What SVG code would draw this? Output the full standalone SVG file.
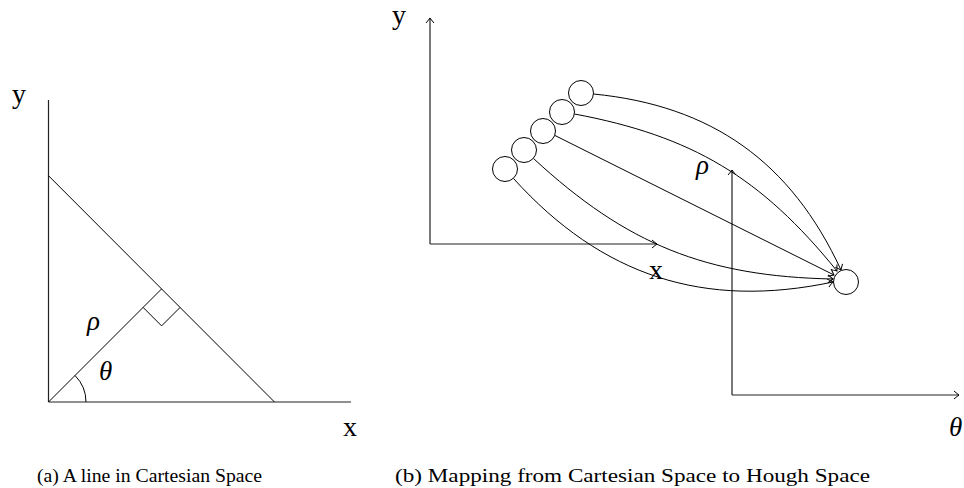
<svg xmlns="http://www.w3.org/2000/svg" width="964" height="488" viewBox="0 0 964 488">
<style>
.ln{fill:none;stroke:#000;stroke-width:1}
.ax{fill:none;stroke:#222;stroke-width:1.2}
.lbl{font-family:"Liberation Serif","DejaVu Serif",serif;font-size:28px;fill:#000}
.gr{font-family:"Liberation Serif","DejaVu Serif",serif;font-size:27px;font-style:italic;fill:#000}
.cap{font-family:"Liberation Serif","DejaVu Serif",serif;font-size:18px;fill:#000}
.nd{fill:#fff;stroke:#000;stroke-width:1}
</style>
<defs>
<marker id="to" markerUnits="userSpaceOnUse" markerWidth="12" markerHeight="12" viewBox="-7 -6 9 12" refX="0" refY="0" orient="auto">
<path d="M-5,-4 Q-1.5,-1 0,0 Q-1.5,1 -5,4" fill="none" stroke="#000" stroke-width="1"/>
</marker>
</defs>
<rect width="964" height="488" fill="#fff"/>

<g id="cartesian-line">
<line class="ax" x1="48.5" y1="100" x2="48.5" y2="402"/>
<line class="ax" x1="48.5" y1="402" x2="351" y2="402"/>
<line class="ln" x1="48.5" y1="175.7" x2="274.5" y2="402"/>
<line class="ln" x1="48.5" y1="402" x2="161.6" y2="288.9"/>
<polyline class="ln" points="143.1,307.4 161.6,325.9 180.1,307.4"/>
<path class="ln" d="M86,402 A37.5,37.5 0 0 0 75,375.5"/>
<text class="lbl" x="12" y="103">y</text>
<text class="lbl" x="343" y="436">x</text>
<text class="gr" x="87" y="330">ρ</text>
<text class="gr" x="99" y="380">θ</text>
</g>

<g id="axes-xy">
<line class="ax" x1="430" y1="244" x2="430" y2="18" marker-end="url(#to)"/>
<line class="ax" x1="430" y1="244" x2="657" y2="244" marker-end="url(#to)"/>
<text class="lbl" x="392" y="24">y</text>
<text class="lbl" x="649" y="279">x</text>
</g>

<g id="axes-hough">
<line class="ax" x1="732" y1="395" x2="732" y2="170" marker-end="url(#to)"/>
<line class="ax" x1="732" y1="395" x2="959" y2="395" marker-end="url(#to)"/>
<text class="gr" x="696" y="174">ρ</text>
<text class="gr" x="949" y="436">θ</text>
</g>

<g id="connectors">
<path class="ln" d="M593.5,94 C712,105.6 791,162 841,270" marker-end="url(#to)"/>
<path class="ln" d="M574.5,114 C692,136 761,177 837,271" marker-end="url(#to)"/>
<path class="ln" d="M555,135.5 L834,275" marker-end="url(#to)"/>
<path class="ln" d="M533.5,158.5 C626.7,244.6 706.2,276.5 833,279" marker-end="url(#to)"/>
<path class="ln" d="M513.5,178.5 C601.8,276 704,309.4 833,282" marker-end="url(#to)"/>
</g>

<g id="p1"><circle class="nd" cx="581" cy="93" r="12.5"/></g>
<g id="p2"><circle class="nd" cx="562" cy="112" r="12.5"/></g>
<g id="p3"><circle class="nd" cx="543" cy="131" r="12.5"/></g>
<g id="p4"><circle class="nd" cx="524" cy="150" r="12.5"/></g>
<g id="p5"><circle class="nd" cx="505" cy="169" r="12.5"/></g>
<g id="hough-point"><circle class="nd" cx="846" cy="282" r="12.5"/></g>

<g id="captions">
<text class="cap" x="37" y="482" textLength="225" lengthAdjust="spacingAndGlyphs">(a) A line in Cartesian Space</text>
<text class="cap" x="395" y="482" textLength="475" lengthAdjust="spacingAndGlyphs">(b) Mapping from Cartesian Space to Hough Space</text>
</g>
</svg>
